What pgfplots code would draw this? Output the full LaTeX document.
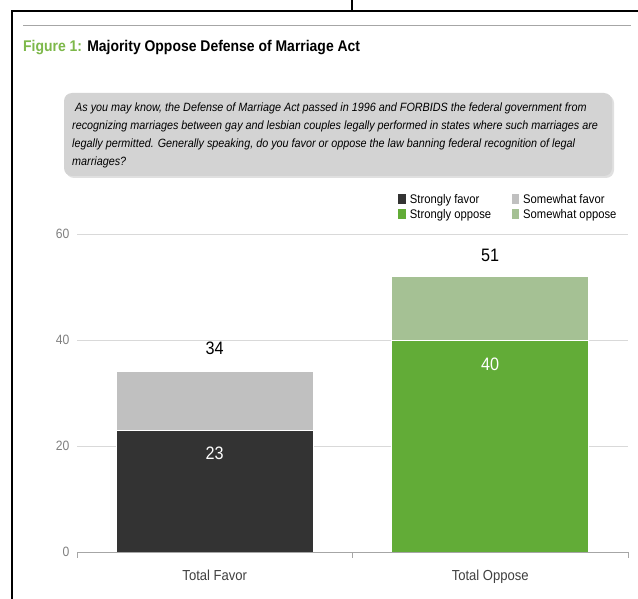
\documentclass[border=0pt]{standalone}
\usepackage{fontspec}
\setmainfont{Liberation Sans}
\newfontfamily\nar[FakeStretch=0.9]{Liberation Sans}
\usepackage{pgfplots}
\pgfplotsset{compat=1.18}
\definecolor{dk}{HTML}{333333}
\definecolor{lgray}{HTML}{C0C0C0}
\definecolor{grn}{HTML}{62AC37}
\definecolor{lgrn}{HTML}{A5C194}
\definecolor{titlegreen}{HTML}{7DB84A}
\definecolor{boxgray}{HTML}{D3D3D3}
\definecolor{gridgray}{HTML}{D9D9D9}
\definecolor{axisgray}{HTML}{A6A6A6}
\definecolor{tickgray}{HTML}{808080}
\definecolor{labgray}{HTML}{404040}
\begin{document}
\begin{tikzpicture}[x=1pt,y=1pt]
\useasboundingbox (0,0) rectangle (638,-599);
\fill[white] (0,0) rectangle (638,-599);
\draw[line width=2.2pt] (12,-600) -- (12,-11) -- (639,-11);
\draw[line width=1.5pt] (352,0) -- (352,-11);
\draw[axisgray, line width=0.9pt] (23,-25) -- (631,-25);
\node[anchor=west, inner sep=0pt, font=\nar\bfseries\fontsize{15.5}{17}\selectfont] at (23,-48) {\textcolor{titlegreen}{Figure 1:} Majority Oppose Defense of Marriage Act};
\fill[black!12, rounded corners=8pt] (66,-95) rectangle (614,-178);
\fill[boxgray, rounded corners=8pt] (64,-93) rectangle (612,-176);
\node[anchor=north west, align=left, inner sep=0pt, font=\nar\itshape\fontsize{12}{18}\selectfont] at (72,-102.5) {\ As you may know, the Defense of Marriage Act passed in 1996 and FORBIDS the federal government from\\recognizing marriages between gay and lesbian couples legally performed in states where such marriages are\\legally permitted. Generally speaking, do you favor or oppose the law banning federal recognition of legal\\marriages?};
\begin{axis}[
  at={(77pt,-552pt)}, anchor=south west,
  scale only axis, width=551pt, height=318pt,
  xmin=-0.5, xmax=1.5, ymin=0, ymax=60,
  axis line style={draw=none},
  ytick={0,20,40,60}, xtick={0,1},
  xticklabels={Total Favor, Total Oppose},
  major tick length=0pt,
  ymajorgrids, grid style={color=gridgray, line width=1pt},
  ybar stacked, bar width=197pt,
  clip=false,
  /pgf/number format/assume math mode=true,
  yticklabel style={font=\nar\fontsize{13.5}{14}\selectfont, text=tickgray, anchor=east, xshift=-4pt},
  xticklabel style={font=\nar\fontsize{14.5}{15}\selectfont, text=labgray, yshift=-14pt},
  legend columns=2, transpose legend, legend cell align=left,
  legend style={draw=none, fill=none, at={(axis description cs:0.583,1.13)}, anchor=north west,
    font=\nar\fontsize{12.5}{12.5}\selectfont, text=black, row sep=1.5pt, inner sep=0pt,
    nodes={inner sep=1.5pt},
    /tikz/every odd column/.append style={column sep=2.5pt},
    /tikz/every even column/.append style={column sep=19pt}},
  legend image code/.code={\fill[#1,draw=none] (0pt,-4.5pt) rectangle (7.5pt,6pt);},
]
\addplot[fill=dk, draw=white, line width=0.8pt] coordinates {(0,23) (1,0)};
\addplot[fill=grn, draw=white, line width=0.8pt] coordinates {(0,0) (1,40)};
\addplot[fill=lgray, draw=white, line width=0.8pt] coordinates {(0,11) (1,0)};
\addplot[fill=lgrn, draw=white, line width=0.8pt] coordinates {(0,0) (1,12)};
\legend{Strongly favor, Strongly oppose, Somewhat favor, Somewhat oppose}
\coordinate (cA) at (axis cs:0,34);
\coordinate (cB) at (axis cs:0,23);
\coordinate (cC) at (axis cs:1,40);
\coordinate (cD) at (axis cs:1,52);
\coordinate (xl) at (axis cs:-0.5,0);
\coordinate (xm) at (axis cs:0.5,0);
\coordinate (xr) at (axis cs:1.5,0);
\end{axis}
\draw[axisgray, line width=1pt] (xl) -- (xr);
\draw[axisgray, line width=1pt] (xl) -- ++(0,-6);
\draw[axisgray, line width=1pt] (xm) -- ++(0,-6);
\draw[axisgray, line width=1pt] (xr) -- ++(0,-6);
\node[font=\nar\fontsize{18}{18}\selectfont, text=black] at ([yshift=23pt]cA) {34};
\node[font=\nar\fontsize{18}{18}\selectfont, text=white] at ([yshift=-23pt]cB) {23};
\node[font=\nar\fontsize{18}{18}\selectfont, text=white] at ([yshift=-24pt]cC) {40};
\node[font=\nar\fontsize{18}{18}\selectfont, text=black] at ([yshift=21pt]cD) {51};
\end{tikzpicture}
\end{document}
